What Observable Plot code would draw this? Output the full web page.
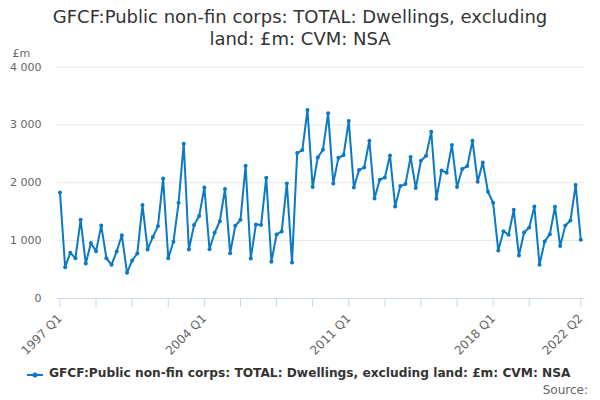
<!DOCTYPE html>
<html><head><meta charset="utf-8">
<script src="https://cdn.jsdelivr.net/npm/d3@7"></script>
<script src="https://cdn.jsdelivr.net/npm/@observablehq/plot@0.6"></script>
<style>
body{margin:0;background:#fff;font-family:"DejaVu Sans",sans-serif;}
#wrap{position:relative;width:600px;height:400px;overflow:hidden;background:#fff}
#title{position:absolute;top:6px;left:0;width:600px;text-align:center;font-size:18px;color:#333;line-height:22px}
#chart{position:absolute;top:45px;left:0}
#legend{position:absolute;top:365px;left:0;width:600px;height:18px}
#legend svg{position:absolute;left:26px;top:2px}
#legend span{position:absolute;left:49px;top:0;font-size:12.2px;font-weight:bold;color:#333;line-height:16px;white-space:nowrap}
#source{position:absolute;top:382px;right:12px;font-size:12px;color:#666;line-height:16px}
</style></head>
<body><div id="wrap">
<div id="title">GFCF:Public non-fin corps: TOTAL: Dwellings, excluding<br>land: £m: CVM: NSA</div>
<div id="chart"></div>
<div id="legend"><svg width="20" height="14"><line x1="1" x2="17" y1="8" y2="8" stroke="#0b79c4" stroke-width="2"/><circle cx="9" cy="8" r="2.5" fill="#0b79c4"/></svg><span id="legtext"></span></div>
<div id="source">Source:</div>
</div>
<script>
const seriesName = "GFCF:Public non-fin corps: TOTAL: Dwellings, excluding land: £m: CVM: NSA";
const startYear = 1997;
const values = [
1833,542,790,697,1360,605,957,818,1262,697,582,813,1095,444,657,778,
1614,847,1061,1251,2075,697,980,1654,2675,847,1268,1424,1919,850,1136,1335,
1891,784,1257,1360,2294,692,1280,1268,2087,634,1107,1159,1989,623,2513,2565,
3257,1925,2438,2571,3199,1989,2432,2479,3066,1919,2219,2265,2726,1729,2052,2092,
2473,1591,1942,1977,2444,1908,2381,2467,2882,1723,2213,2173,2651,1925,2236,2288,
2726,2017,2352,1844,1654,830,1164,1101,1533,744,1141,1228,1591,582,986,1112,
1585,905,1262,1349,1960,1014
];
const quarters = values.map((_, i) => `${startYear + Math.floor(i / 4)} Q${(i % 4) + 1}`);
const tickLabels = ["1997 Q1", "2004 Q1", "2011 Q1", "2018 Q1", "2022 Q2"];
const yTicks = [0, 1000, 2000, 3000, 4000];
const unitLabel = "£m";

const data = values.map((v, i) => ({i, q: quarters[i], v}));
const tickIdx = quarters.map((q, i) => i).filter(i => i % 7 === 0 && i < 95).concat([quarters.indexOf("2022 Q2")]);
const fmt = d3.formatLocale({thousands: " ", grouping: [3], decimal: "."}).format(",d");
const color = "#0b79c4";

document.getElementById("legtext").textContent = seriesName;

const chart = Plot.plot({
  width: 600, height: 318,
  marginTop: 21.5, marginBottom: 65, marginLeft: 57, marginRight: 16,
  style: {fontFamily: "DejaVu Sans, sans-serif", fontSize: "11px", background: "transparent", overflow: "visible"},
  x: {type: "linear", domain: [-0.48, 101.72]},
  y: {domain: [0, 4000]},
  marks: [
    Plot.gridY(yTicks, {stroke: "#e6e6e6", strokeOpacity: 1}),
    Plot.ruleY([0], {stroke: "#ccd6eb"}),
    Plot.axisY(yTicks, {tickSize: 0, tickPadding: 16, tickFormat: fmt, fill: "#666", label: null, fontSize: 11}),
    Plot.axisX(tickIdx, {tickSize: 9, stroke: "#ccd6eb", tickRotate: -45, tickPadding: 9,
      tickFormat: i => tickLabels.includes(quarters[i]) ? quarters[i] : "", fill: "#666", label: null, fontSize: 12}),
    Plot.text([unitLabel], {frameAnchor: "top-left", lineAnchor: "middle", dx: -45, dy: -13.5, textAnchor: "start", fill: "#666", fontSize: 11}),
    Plot.line(data, {x: "i", y: "v", stroke: color, strokeWidth: 2}),
    Plot.dot(data, {x: "i", y: "v", r: 2, fill: color, stroke: "none"})
  ]
});
document.getElementById("chart").appendChild(chart);
</script>
</body></html>
